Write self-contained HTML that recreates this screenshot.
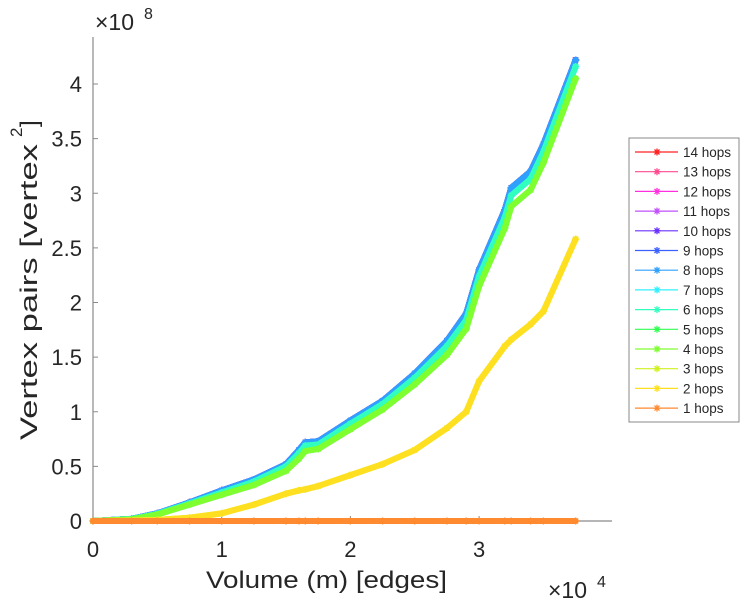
<!DOCTYPE html>
<html><head><meta charset="utf-8"><style>
html,body{margin:0;padding:0;background:#fff;}
svg{display:block;font-family:"Liberation Sans",sans-serif;}
</style></head><body>
<svg id="chart" width="749" height="600" viewBox="0 0 749 600">
<g id="axes"></g>
<g id="series"></g>
<g id="legend"></g>
</svg>
<script>
// data (x in 1e4 edges, y in 1e8 vertex pairs)
const xHigh = [0,0.3,0.5,0.75,1.0,1.25,1.5,1.6,1.65,1.75,2.0,2.25,2.5,2.75,2.9,3.0,3.2,3.25,3.4,3.5,3.75];
const yHigh = [0,0.02,0.07,0.17,0.28,0.38,0.52,0.65,0.72,0.73,0.92,1.1,1.35,1.65,1.9,2.3,2.85,3.05,3.2,3.45,4.22];
const yMid  = [0,0.02,0.065,0.16,0.26,0.36,0.5,0.62,0.69,0.7,0.89,1.07,1.31,1.6,1.84,2.24,2.78,2.98,3.13,3.38,4.16];
const yLow  = [0,0.015,0.06,0.15,0.24,0.33,0.46,0.57,0.64,0.66,0.84,1.02,1.25,1.52,1.76,2.15,2.68,2.88,3.03,3.28,4.05];
const yTwo  = [0,0.005,0.01,0.03,0.07,0.15,0.25,0.28,0.29,0.32,0.42,0.52,0.65,0.85,1.0,1.28,1.6,1.66,1.8,1.92,2.58];
const yOne  = [0,0,0,0,0,0,0,0,0,0,0,0,0,0,0,0,0,0,0,0,0];
const seriesNames = ["14 hops","13 hops","12 hops","11 hops","10 hops","9 hops","8 hops","7 hops","6 hops","5 hops","4 hops","3 hops","2 hops","1 hops"];
const seriesColors = ["#ff2020","#ff4a90","#ff30e0","#c050ff","#6a30ff","#3a60ff","#30a0ff","#30f0ff","#30ffc0","#30ff50","#80ff30","#d0f020","#ffe020","#ff8a30"];
const seriesY = [yHigh,yHigh,yHigh,yHigh,yHigh,yHigh,yHigh,yMid,yMid,yLow,yLow,yTwo,yTwo,yOne];
const xTicks = [0,1,2,3];
const yTicks = [0,0.5,1,1.5,2,2.5,3,3.5,4];
const yTickLabels = ["0","0.5","1","1.5","2","2.5","3","3.5","4"];

const NS="http://www.w3.org/2000/svg";
const X0=93, X1=612, Y0=521, Y1=37;
const sx = v => X0 + v*128.7;
const sy = v => Y0 - v*109.25;
function mk(tag, attrs, parent){const e=document.createElementNS(NS,tag);for(const k in attrs)e.setAttribute(k,attrs[k]);parent.appendChild(e);return e;}

const axes=document.getElementById('axes');
let a=mk('path',{d:`M${X0} ${Y1} V${Y0} H${X1}`,stroke:'#8a8a8a','stroke-width':1.2,fill:'none'},axes);


xTicks.forEach(t=>{
  const tk=mk('line',{x1:sx(t),x2:sx(t),y1:Y0,y2:Y0-5,stroke:'#8a8a8a'},axes);
  
  
  const tl=mk('text',{x:sx(t),y:Y0+36,'font-size':22,fill:'#262626','text-anchor':'middle'},axes);
  tl.textContent=String(t);
  
  
});
yTicks.forEach((t,i)=>{
  const tk=mk('line',{x1:X0,x2:X0+5,y1:sy(t),y2:sy(t),stroke:'#8a8a8a'},axes);
  
  
  const tl=mk('text',{x:X0-11,y:sy(t)+8,'font-size':22,fill:'#262626','text-anchor':'end'},axes);
  tl.textContent=yTickLabels[i];
  
  
});

const ser=document.getElementById('series');
function star(x,y,c,g){
  const r=3.5;
  mk('path',{d:`M${x-r} ${y}H${x+r}M${x} ${y-r}V${y+r}M${x-2.5} ${y-2.5}L${x+2.5} ${y+2.5}M${x-2.5} ${y+2.5}L${x+2.5} ${y-2.5}`,stroke:c,'stroke-width':1.3},g);
}
seriesNames.forEach((n,i)=>{
  const g=mk('g',{},ser);
  
  
  const ys=seriesY[i];
  const pts=xHigh.map((x,j)=>sx(x)+','+sy(ys[j])).join(' ');
  mk('polyline',{points:pts,fill:'none',stroke:seriesColors[i],'stroke-width':6,'stroke-linejoin':'round','stroke-linecap':'round'},g);
  xHigh.forEach((x,j)=>star(sx(x),sy(ys[j]),seriesColors[i],g));
});

const leg=document.getElementById('legend');
mk('rect',{x:629,y:138,width:110,height:284,fill:'#fff',stroke:'#8a8a8a','stroke-width':1},leg);
seriesNames.forEach((n,i)=>{
  const y=152+i*19.7;
  const g=mk('g',{},leg);
  
  
  mk('line',{x1:635,x2:678,y1:y,y2:y,stroke:seriesColors[i],'stroke-width':1.2},g);
  star(657,y,seriesColors[i],g);
  const t=mk('text',{x:683,y:y+5,'font-size':13.5,fill:'#262626'},g);
  t.textContent=n;
});
</script>
<svg style="position:absolute;left:0;top:0" width="749" height="600">
<text x="95" y="30" font-family="Liberation Sans, sans-serif" font-size="23" fill="#262626">×10</text>
<text x="144" y="19" font-family="Liberation Sans, sans-serif" font-size="16" fill="#262626">8</text>
<text x="206" y="588" textLength="241" lengthAdjust="spacingAndGlyphs" font-family="Liberation Sans, sans-serif" font-size="24" fill="#262626">Volume (m) [edges]</text>
<text x="548" y="598" font-family="Liberation Sans, sans-serif" font-size="23" fill="#262626">×10</text>
<text x="597" y="587" font-family="Liberation Sans, sans-serif" font-size="16" fill="#262626">4</text>
<text transform="translate(37,440) rotate(-90)" textLength="296" lengthAdjust="spacingAndGlyphs" font-family="Liberation Sans, sans-serif" font-size="24" fill="#262626">Vertex pairs [vertex</text>
<text transform="translate(22,137) rotate(-90)" font-family="Liberation Sans, sans-serif" font-size="17" fill="#262626">2</text>
<text transform="translate(37,127) rotate(-90)" font-family="Liberation Sans, sans-serif" font-size="24" fill="#262626">]</text>
</svg>
</body></html>
